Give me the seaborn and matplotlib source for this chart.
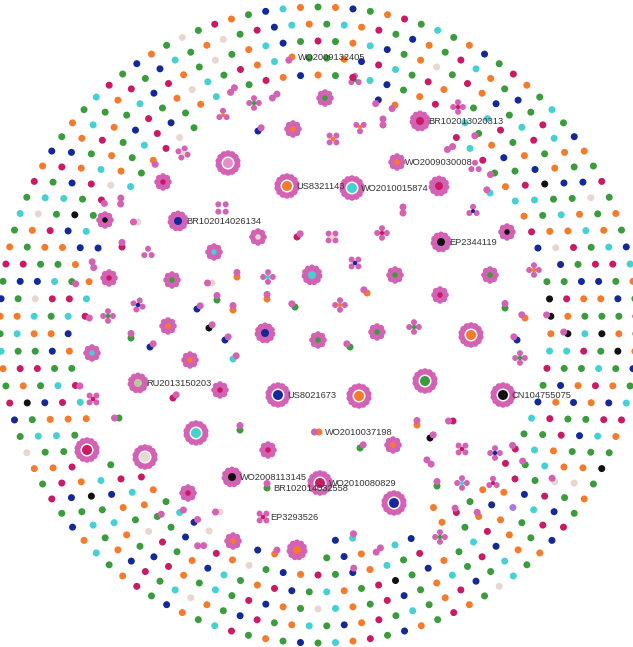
import matplotlib
matplotlib.use("Agg")
import matplotlib.pyplot as plt
import numpy as np
import pandas as pd
import seaborn as sns

sns.set_theme(style="white")
plt.rcParams["font.family"] = ["Liberation Sans", "DejaVu Sans"]

# Node colours by family category
PALETTE = {
    "g": "#3a9c3c", "o": "#f47b2b", "m": "#c81b63", "b": "#13299a",
    "c": "#45d1d2", "k": "#111111", "e": "#e8d7d0", "s": "#b9c99f",
    "p": "#a77ae6", "l": "#e28ecb",
}
PINK = "#d462b4"
WHITE = "#ffffff"

# Connected families in the core of the map
# kind: H large hub, h hub, f flower, x cross, t triad, q quad, p pair
core_x = [292, 254, 223, 258, 293, 183, 228, 163, 287, 222, 178, 105, 138, 258, 297,
          122, 148, 214, 109, 172, 212, 237, 268, 312, 138, 197, 217, 233, 267, 295,
          108, 355, 325, 458, 420, 360, 383, 333, 450, 397, 475, 352, 439, 403, 473,
          490, 332, 382, 441, 507, 355, 395, 490, 534, 367, 440, 340, 505, 168, 209,
          265, 318, 131, 150, 225, 92, 190, 233, 138, 220, 173, 278, 93, 119, 196,
          240, 87, 145, 268, 232, 188, 267, 263, 233, 297, 220, 377, 350, 414, 471,
          425, 359, 503, 319, 417, 453, 430, 360, 393, 462, 495, 429, 320, 394, 437,
          462, 493, 440, 520, 517, 525]
core_y = [57, 103, 115, 131, 129, 153, 163, 182, 186, 208, 221, 220, 222, 237, 237,
          247, 253, 252, 278, 280, 283, 277, 277, 275, 305, 309, 300, 310, 299, 307,
          316, 80, 98, 107, 121, 127, 122, 139, 148, 162, 167, 188, 186, 210, 211,
          193, 237, 233, 242, 232, 263, 275, 275, 270, 293, 295, 305, 308, 326, 328,
          333, 340, 338, 347, 340, 353, 360, 359, 383, 390, 398, 395, 399, 418, 433,
          430, 450, 457, 450, 477, 493, 488, 517, 541, 550, 512, 332, 347, 327, 335,
          381, 396, 395, 432, 425, 421, 438, 448, 445, 449, 453, 462, 483, 503, 486,
          483, 483, 537, 358, 340, 318]
core_kind = list("pxtpfxHfHqhfpfp"
                 "ptfffppxhxppppp"
                 "xtfxhtpxpftHhpt"
                 "pxxhfxffxpfxpfp"
                 "hfpppffphfpHxpH"
                 "pHHfhfpxfhpfpxH"
                 "HHHpppppfxxpHHp"
                 "xtxxpp")
core_color = list("ogoboelmo-bkeem"
                  "m-cmgeoccbbgoog"
                  "gggmmo-o-o-cm-b"
                  "cemkkbggoomogok"
                  "bggbbcocsmmbmgc"
                  "gmemkmgmooegggo"
                  "gokoomkgomb-mbg"
                  "cmggbo")
core_angle = [225, 0, 0, 45, 0, 20, 0, 0, 0, 0, 0, 0, 270, 0, 45,
              0, 0, 0, 0, 0, 270, 0, 0, 0, 20, 45, 0, 0, 0, 315,
              0, 0, 0, 0, 0, 180, 0, 45, 60, 0, 0, 0, 0, 0, 0,
              315, 45, 0, 0, 0, 45, 0, 0, 0, 315, 0, 0, 0, 0, 45,
              0, 0, 0, 45, 45, 0, 0, 45, 0, 0, 45, 0, 45, 270, 0,
              0, 0, 0, 0, 0, 0, 0, 45, 0, 0, 270, 0, 315, 0, 0,
              0, 0, 0, 270, 0, 270, 45, 45, 0, 45, 0, 135, 0, 0, 0,
              0, 0, 0, 0, 315, 315]
core_label = {
    0: "WO2009132405", 8: "US8321143", 10: "BR102014026134",
    34: "BR102013020313", 39: "WO2009030008", 41: "WO2010015874",
    48: "EP2344119", 68: "RU2013150203", 71: "US8021673",
    79: "WO2008113145", 81: "BR102014032558", 82: "EP3293526",
    92: "CN104755075", 93: "WO2010037198", 102: "WO2010080829",
}

# Unconnected families on concentric shells; upper case = node with a linked pink node,
# '*' = two pink nodes, '.' = empty slot
SHELL_CENTER = (318, 325)
shell_radius = [318, 301, 284, 267, 250, 233, 216]
shell_phase = [0, 0.5, 0, 0.5, 0, 0.5, 0]
shell_0 = ("gobgomgcgo" "bgmogcgbog" "mgogbcogmg" "obgcmogkgo" "gmbogcegom" "gobgmocgbg"
           "ogmcgobgmo" "gcobgmgoeg" "bmgocgobgm" "ogcgmobgog" "cmgbogegmo" "gbco")
shell_1 = ("gcomgbogmc" "ogbgmcogbe" "gocmgbgokg" "obmcgoegbm" "gocgbmogcg" "mobgcogmbg"
           "oecgmbogcg" "bmogcgkomg" "cogbmgoecg" "mbocgomgbc" "goegmbco")
shell_2 = ("mgocbgoegm" "obgcmgobgo" "cgmbogkgcm" "ogbgoEmcgo" "bmgcogbmgo" "cegobmgcgo"
           "mbgocgkomg" "cobgmgoceb" "gomgcbogmo" "gcbmogegoc" "bg")
shell_3 = ("gobmcgmo.g" "cmgobkgcom" "gbogcmgobg" "mocgbpomcg" "obgkmgocgb" "mogcbogmeg"
           "obc..gomcg" "bogmcgobkg" "mcogbmgoec" "gmoc.g")
shell_4 = ("ogmcbgom.c" "Gobgmcgoeb" "gmoKcgbomg" "cGmobOg..m" "gcoBgmobge" "om*bgGocmg"
           "..ocMgobcm" "GobcgMeogc" "mbgoc*gmob")
shell_5 = ("...BO...mc" "mGocomb.gk" "KocmgbcgMm" ".ogMo.bc*o" "bg..Ob..eB" "Cgom......"
           "...Mco*b.." "*cgOmeg..." ".*..")
shell_6 = "." * 32 + "o" + "...." + "Cb" + "." * 39
shell_colors = [shell_0, shell_1, shell_2, shell_3, shell_4, shell_5, shell_6]

GLYPH = {
    "H": dict(n=14, pd=6.5, dist=9.5, disk=20, white=13, core=10, rot=0),
    "h": dict(n=11, pd=6.0, dist=7.5, disk=16, white=0, core=8, rot=0),
    "f": dict(n=8, pd=6.0, dist=5.8, disk=9, white=0, core=5.5, rot=0),
    "x": dict(n=4, pd=6.0, dist=4.8, disk=0, white=0, core=4.5, rot=0),
    "t": dict(n=3, pd=6.0, dist=4.2, disk=0, white=0, core=4, rot=0),
    "q": dict(n=4, pd=6.0, dist=5.2, disk=0, white=0, core=0, rot=45),
}
LABEL_GAP = {"H": 9, "h": 8, "f": 8, "x": 7, "t": 6, "q": 7, "p": 6}
NODE_D = 7.0

rows = []


def mark(x, y, d, color, layer):
    rows.append({"x": x, "y": y, "d": d, "color": color, "layer": layer})


def polar(x, y, dist, ang):
    a = np.radians(ang)
    return x + dist * np.sin(a), y - dist * np.cos(a)


for x, y, kind, col, ang in zip(core_x, core_y, core_kind, core_color, core_angle):
    if kind == "p":
        if col == "-":
            for sgn in (-1, 1):
                px, py = polar(x, y, 3.0 * sgn, ang)
                mark(px, py, NODE_D, PINK, 3)
        else:
            mark(x, y, NODE_D, PALETTE[col], 2)
            px, py = polar(x, y, 4.5, ang)
            mark(px, py, NODE_D, PINK, 3)
        continue
    g = GLYPH[kind]
    for k in range(g["n"]):
        px, py = polar(x, y, g["dist"], ang + g["rot"] + 360.0 * k / g["n"])
        mark(px, py, g["pd"], PINK, 0)
    if g["disk"]:
        mark(x, y, g["disk"], PINK, 0)
    if g["white"]:
        mark(x, y, g["white"], WHITE, 1)
    if col != "-" and g["core"]:
        mark(x, y, g["core"], PALETTE[col], 2)

cx, cy = SHELL_CENTER
for radius, phase, seq in zip(shell_radius, shell_phase, shell_colors):
    n = len(seq)
    for i, ch in enumerate(seq):
        if ch == ".":
            continue
        ang = (i + phase) * 360.0 / n
        x, y = polar(cx, cy, radius, ang)
        if ch == "*":
            for sgn in (-1, 1):
                px, py = polar(x, y, 3.0 * sgn, ang + 60)
                mark(px, py, NODE_D, PINK, 3)
            continue
        mark(x, y, NODE_D, PALETTE[ch.lower()], 2)
        if ch.isupper():
            px, py = polar(x, y, -4.5, ang + 20)
            mark(px, py, NODE_D, PINK, 3)

marks = pd.DataFrame(rows)

fig = plt.figure(figsize=(6.33, 6.47), dpi=100)
ax = fig.add_axes([0, 0, 1, 1])
for (layer, d), sub in marks.groupby(["layer", "d"], sort=True):
    sns.scatterplot(data=sub, x="x", y="y", hue="color",
                    palette={c: c for c in sub["color"].unique()},
                    s=(d * 0.72) ** 2, linewidth=0, legend=False, ax=ax)

for idx, name in core_label.items():
    ax.text(core_x[idx] + LABEL_GAP[core_kind[idx]], core_y[idx] + 0.5, name,
            fontsize=6.7, color="#333333", ha="left", va="center")

ax.set_xlim(0, 633)
ax.set_ylim(647, 0)
ax.axis("off")
fig.savefig("out.png", dpi=100, facecolor="white")
